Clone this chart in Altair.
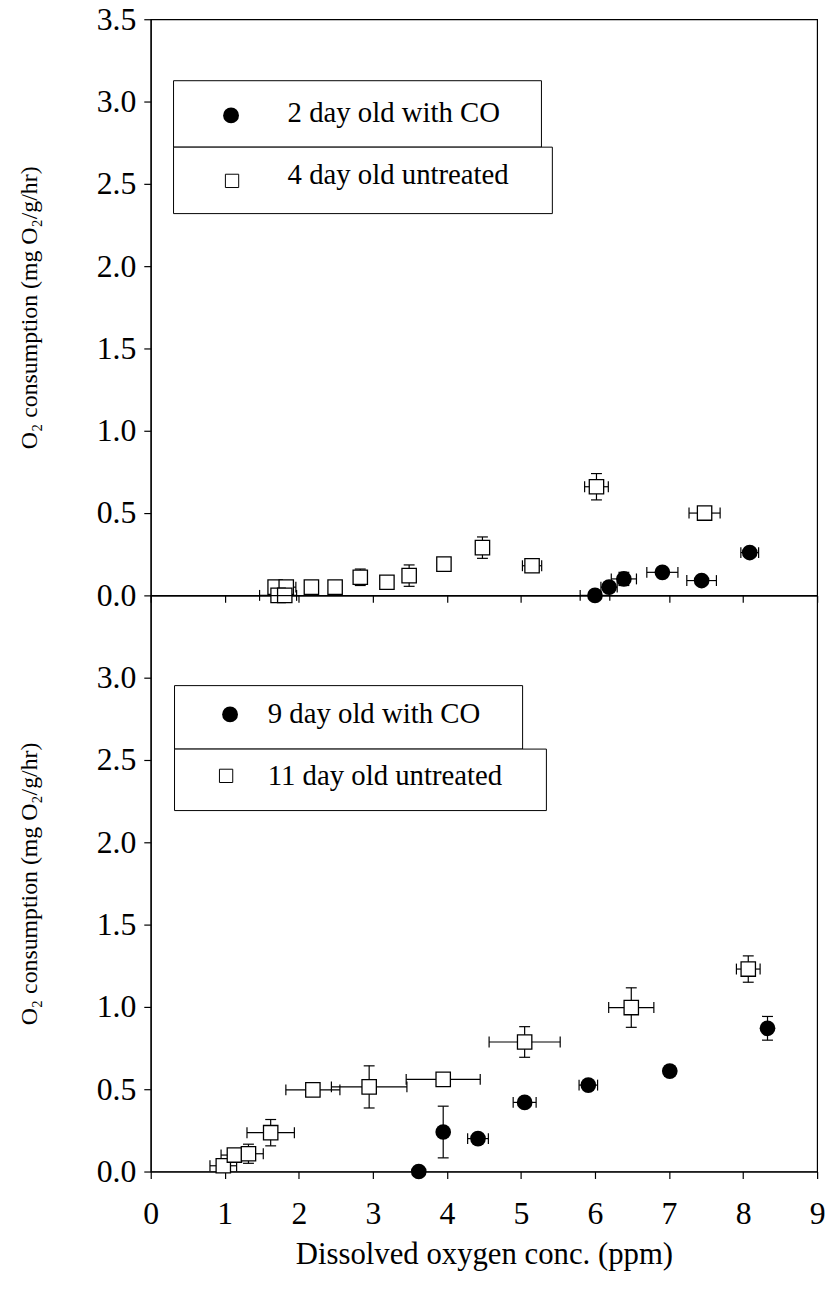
import altair as alt
import pandas as pd

FONT = "Liberation Serif"

# ---- upper panel: 2 day old with CO (circles), 4 day old untreated (squares)
a_circ_x = [6.00, 6.19, 6.39, 6.91, 7.44, 8.09]
a_circ_y = [0.00, 0.05, 0.10, 0.14, 0.09, 0.26]
a_circ_xerr = [0.20, 0.11, 0.17, 0.21, 0.20, 0.12]
a_circ_yerr = [0.00, 0.02, 0.04, 0.02, 0.02, 0.00]

a_sq_x = [1.68, 1.83, 1.72, 1.81, 2.17, 2.49, 2.83, 3.19, 3.49, 3.96, 4.48, 5.15, 6.02, 7.48]
a_sq_y = [0.05, 0.05, 0.00, 0.00, 0.05, 0.05, 0.11, 0.08, 0.12, 0.19, 0.29, 0.18, 0.66, 0.50]
a_sq_xerr = [0.00, 0.13, 0.25, 0.00, 0.00, 0.00, 0.00, 0.00, 0.00, 0.00, 0.00, 0.13, 0.16, 0.21]
a_sq_yerr = [0.03, 0.00, 0.00, 0.00, 0.02, 0.02, 0.05, 0.02, 0.065, 0.02, 0.065, 0.02, 0.08, 0.02]

# ---- lower panel: 9 day old with CO (circles), 11 day old untreated (squares)
b_circ_x = [3.62, 3.95, 4.42, 5.05, 5.91, 7.01, 8.33]
b_circ_y = [0.00, 0.24, 0.20, 0.42, 0.525, 0.61, 0.87]
b_circ_xerr = [0.00, 0.00, 0.14, 0.155, 0.125, 0.00, 0.04]
b_circ_yerr = [0.00, 0.157, 0.00, 0.00, 0.00, 0.03, 0.072]

b_sq_x = [0.98, 1.13, 1.32, 1.62, 2.19, 2.95, 3.95, 5.05, 6.49, 8.07]
b_sq_y = [0.035, 0.10, 0.108, 0.236, 0.496, 0.514, 0.56, 0.787, 0.996, 1.23]
b_sq_xerr = [0.18, 0.18, 0.20, 0.32, 0.365, 0.51, 0.50, 0.48, 0.305, 0.16]
b_sq_yerr = [0.02, 0.02, 0.058, 0.08, 0.00, 0.128, 0.00, 0.093, 0.12, 0.08]

legend_a = ["2 day old with CO", "4 day old untreated"]
legend_b = ["9 day old with CO", "11 day old untreated"]

x_ticks = list(range(10))
y_ticks_a = [0.0, 0.5, 1.0, 1.5, 2.0, 2.5, 3.0, 3.5]
y_ticks_b = [0.0, 0.5, 1.0, 1.5, 2.0, 2.5, 3.0]

Y_TITLE = "O\u2082 consumption (mg O\u2082/g/hr)"
X_TITLE = "Dissolved oxygen conc. (ppm)"

W = 672


def frame(x, y, xerr, yerr, kind):
    return pd.DataFrame({
        "x": x, "y": y,
        "xlo": [a - e for a, e in zip(x, xerr)],
        "xhi": [a + e for a, e in zip(x, xerr)],
        "ylo": [a - e for a, e in zip(y, yerr)],
        "yhi": [a + e for a, e in zip(y, yerr)],
        "xerr": xerr, "yerr": yerr, "kind": kind,
    })


def panel(circ, sq, yvals, labels, show_x, height, box1, box2, sym1, sym2, txt_pos):
    data = pd.concat([circ, sq], ignore_index=True)
    xs = alt.Scale(domain=[0, 9], nice=False, zero=False)
    ys = alt.Scale(domain=[0, 3.5], nice=False, zero=False)
    xa = alt.Axis(values=x_ticks, labels=show_x, title=X_TITLE if show_x else None,
                  format="d", labelFlush=False)
    ya = alt.Axis(values=yvals, title=Y_TITLE, format=".1f")

    def X(f):
        return alt.X(f, type="quantitative", scale=xs, axis=xa)

    def Y(f):
        return alt.Y(f, type="quantitative", scale=ys, axis=ya)

    base = alt.Chart(data)
    hx = base.transform_filter("datum.xerr > 0")
    vy = base.transform_filter("datum.yerr > 0")
    bar = dict(color="black", strokeWidth=1.2)
    cap = dict(color="black", thickness=1.2, size=11, opacity=1)

    layers = [
        hx.mark_rule(**bar).encode(x=X("xlo"), x2="xhi", y=Y("y")),
        hx.mark_tick(orient="vertical", **cap).encode(x=X("xlo"), y=Y("y")),
        hx.mark_tick(orient="vertical", **cap).encode(x=X("xhi"), y=Y("y")),
        vy.mark_rule(**bar).encode(x=X("x"), y=Y("ylo"), y2="yhi"),
        vy.mark_tick(orient="horizontal", **cap).encode(x=X("x"), y=Y("ylo")),
        vy.mark_tick(orient="horizontal", **cap).encode(x=X("x"), y=Y("yhi")),
        base.transform_filter("datum.kind == 'sq'").mark_square(
            size=210, fill="white", stroke="black", strokeWidth=1.3, opacity=1
        ).encode(x=X("x"), y=Y("y")),
        base.transform_filter("datum.kind == 'circ'").mark_circle(
            size=250, color="black", opacity=1
        ).encode(x=X("x"), y=Y("y")),
    ]

    one = alt.Chart(pd.DataFrame({"k": [0]}))
    for (x1, x2, y1, y2) in (box1, box2):
        layers.append(one.mark_rect(fill="white", stroke="black", strokeWidth=1).encode(
            x=alt.value(x1), x2=alt.value(x2), y=alt.value(y1), y2=alt.value(y2)))
    layers.append(one.mark_point(shape="circle", filled=True, size=256, color="black", opacity=1)
                  .encode(x=alt.value(sym1[0]), y=alt.value(sym1[1])))
    layers.append(one.mark_point(shape="square", filled=True, size=180, fill="white",
                                 stroke="black", strokeWidth=1, opacity=1)
                  .encode(x=alt.value(sym2[0]), y=alt.value(sym2[1])))
    for lab, (tx, ty) in zip(labels, txt_pos):
        layers.append(one.mark_text(align="left", baseline="middle", font=FONT,
                                    fontSize=29, color="black")
                      .encode(x=alt.value(tx), y=alt.value(ty), text=alt.value(lab)))

    return alt.layer(*layers).properties(width=W, height=height)


top = panel(
    frame(a_circ_x, a_circ_y, a_circ_xerr, a_circ_yerr, "circ"),
    frame(a_sq_x, a_sq_y, a_sq_xerr, a_sq_yerr, "sq"),
    y_ticks_a, legend_a, False, 581,
    (23, 394, 62, 129), (23, 405, 129, 196),
    (81, 97), (82, 163),
    [(138, 95), (138, 157)],
)
bottom = panel(
    frame(b_circ_x, b_circ_y, b_circ_xerr, b_circ_yerr, "circ"),
    frame(b_sq_x, b_sq_y, b_sq_xerr, b_sq_yerr, "sq"),
    y_ticks_b, legend_b, True, 581,
    (24, 375, 91, 155), (24, 399, 155, 217),
    (80, 120), (76, 182),
    [(118, 120), (118, 182)],
)

chart = alt.vconcat(top, bottom, spacing=0, bounds="flush").properties(
    padding={"left": 17, "top": -3, "right": 5, "bottom": 5}
).configure_view(
    stroke="black", strokeWidth=1.2
).configure_axis(
    domainColor="black", domainWidth=1.2, tickColor="black", tickWidth=1.2, tickSize=7,
    labelFont=FONT, labelFontSize=32, labelColor="black", labelPadding=8,
    titleFont=FONT, titleFontSize=24, titleFontWeight="normal", titleColor="black",
    grid=False,
).configure_axisY(titlePadding=55).configure_axisX(
    labelPadding=20, titlePadding=11, titleFontSize=31
)

chart.save("out.html", embed_options={"renderer": "svg", "actions": False})
